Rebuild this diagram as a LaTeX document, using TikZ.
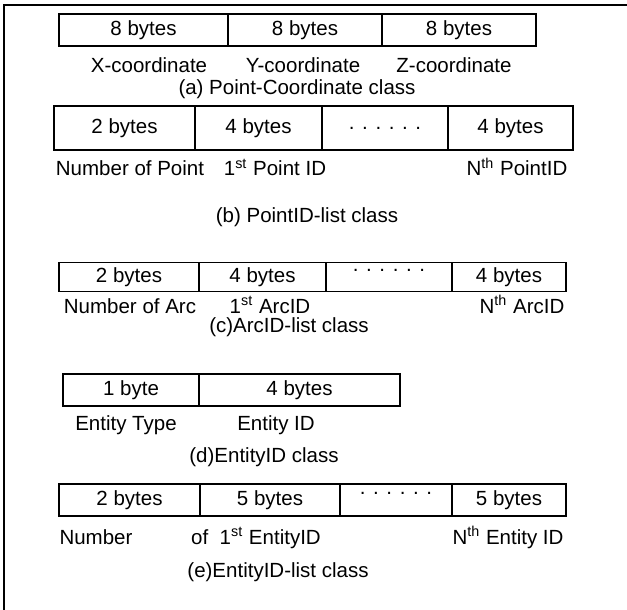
\documentclass[tikz,border=0pt]{standalone}
\usepackage{fontspec}
\setmainfont{Liberation Sans}
\usepackage{tikz}
\usetikzlibrary{positioning}

\begin{document}
\begin{tikzpicture}[
  x=0.5pt, y=-0.5pt,
  font=\fontsize{10.25}{12}\selectfont,
  node distance = 0pt,
  cell/.style = {draw, rectangle, line width=0.65pt, outer sep=0pt, inner sep=0pt, minimum height=16pt},
  dotcell/.style = {cell, text height=0pt, text depth=5.5pt},
  lbl/.style = {anchor=base, inner sep=0pt},
  frame/.style = {line width=1.25pt}
  ]
 \useasboundingbox (0,0) rectangle (627,610);
 % Outer frame
 \coordinate (fbl) at (4,610);
 \coordinate (ftl) at (4,5);
 \coordinate (ftr) at (627,5);
 \draw[frame] (fbl) -- (ftl) -- (ftr);
 % (a) Point-Coordinate class
 \node[cell, minimum width=84.5pt, anchor=west] (a1) at (59,30) {8 bytes};
 \node[cell, minimum width=77pt, right=of a1] (a2) {8 bytes};
 \node[cell, minimum width=77pt, right=of a2] (a3) {8 bytes};
 \node[lbl] (xc) at (149,73) {X-coordinate};
 \node[lbl] (yc) at (303,73) {Y-coordinate};
 \node[lbl] (zc) at (454,73) {Z-coordinate};
 \node[lbl] (capa) at (297,95) {(a) Point-Coordinate class};
 % (b) PointID-list class
 \node[cell, minimum width=70.5pt, minimum height=22pt, anchor=west] (b1) at (54,128) {2 bytes};
 \node[cell, minimum width=63.5pt, minimum height=22pt, right=of b1] (b2) {4 bytes};
 \node[cell, minimum width=63pt, minimum height=22pt, right=of b2] (b3) {. . . . . .};
 \node[cell, minimum width=62.5pt, minimum height=22pt, right=of b3] (b4) {4 bytes};
 \node[lbl] (npoint) at (130,176) {Number of Point};
 \node[lbl] (firstpoint) at (275,176) {1\textsuperscript{st} Point ID};
 \node[lbl] (nthpoint) at (517,176) {N\textsuperscript{th} PointID};
 \node[lbl] (capb) at (307,222) {(b) PointID-list class};
 % (c) ArcID-list class
 \node[cell, minimum width=70pt, minimum height=14.5pt, anchor=west] (c1) at (59,277) {2 bytes};
 \node[cell, minimum width=63.5pt, minimum height=14.5pt, right=of c1] (c2) {4 bytes};
 \node[dotcell, minimum width=63pt, minimum height=14.5pt, right=of c2] (c3) {. . . . . .};
 \node[cell, minimum width=57pt, minimum height=14.5pt, right=of c3] (c4) {4 bytes};
 \node[lbl] (narc) at (130,313) {Number of Arc};
 \node[lbl] (firstarc) at (270,313) {1\textsuperscript{st} ArcID};
 \node[lbl] (ntharc) at (522,313) {N\textsuperscript{th} ArcID};
 \node[lbl] (capc) at (289,332) {(c)ArcID-list class};
 % (d) EntityID class
 \node[cell, minimum width=68pt, anchor=west] (d1) at (63,390) {1 byte};
 \node[cell, minimum width=100.5pt, right=of d1] (d2) {4 bytes};
 \node[lbl] (etype) at (126,430) {Entity Type};
 \node[lbl] (eid) at (276,430) {Entity ID};
 \node[lbl] (capd) at (264,462) {(d)EntityID class};
 % (e) EntityID-list class
 \node[cell, minimum width=70.5pt, anchor=west] (e1) at (59,500) {2 bytes};
 \node[cell, minimum width=70pt, right=of e1] (e2) {5 bytes};
 \node[dotcell, minimum width=56pt, right=of e2] (e3) {. . . . . .};
 \node[cell, minimum width=57pt, right=of e3] (e4) {5 bytes};
 \node[lbl] (nentity) at (96,544) {Number};
 \node[lbl] (firstentity) at (256,544) {of~ 1\textsuperscript{st} EntityID};
 \node[lbl] (nthentity) at (508,544) {N\textsuperscript{th} Entity ID};
 \node[lbl] (cape) at (278,577) {(e)EntityID-list class};
\end{tikzpicture}
\end{document}
